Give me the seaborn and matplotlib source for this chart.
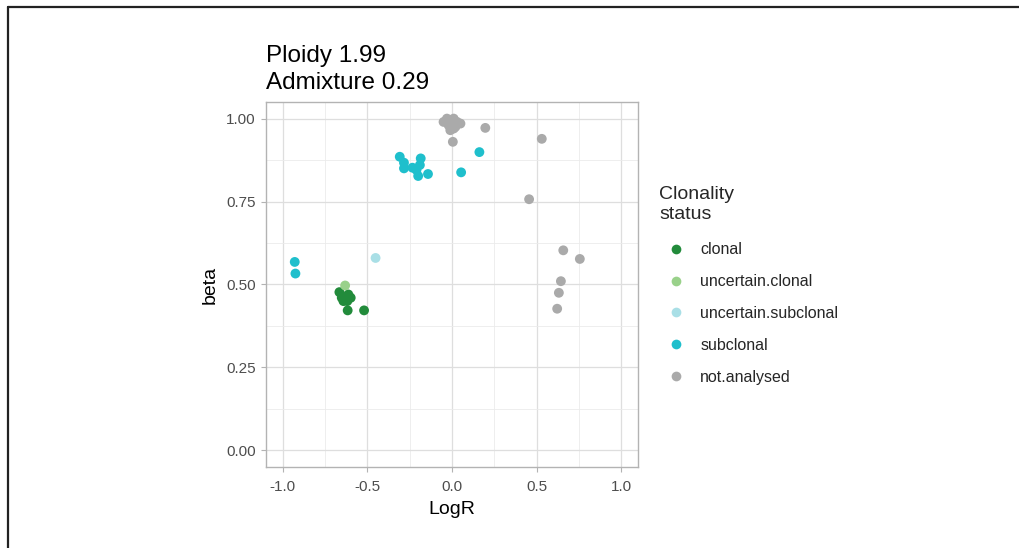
import matplotlib
matplotlib.use("Agg")
import matplotlib.pyplot as plt
from matplotlib.lines import Line2D
import seaborn as sns
import pandas as pd
import numpy as np

# ---- data ----
clonal_x = [-0.666, -0.613, -0.652, -0.599, -0.642, -0.619, -0.630, -0.617, -0.520]
clonal_y = [0.477, 0.470, 0.460, 0.460, 0.450, 0.450, 0.455, 0.422, 0.422]
unc_clonal_x = [-0.632]
unc_clonal_y = [0.497]
unc_subclonal_x = [-0.452]
unc_subclonal_y = [0.580]
subclonal_x = [-0.930, -0.926, -0.309, -0.284, -0.284, -0.185, -0.210, -0.200,
               -0.142, -0.234, -0.190, 0.162, 0.054]
subclonal_y = [0.568, 0.533, 0.885, 0.867, 0.850, 0.880, 0.845, 0.827,
               0.833, 0.852, 0.860, 0.899, 0.838]
na_x = [-0.05, -0.03, -0.01, 0.01, 0.03, 0.02, -0.02, 0.05, -0.01, 0.01, 0.0,
        0.197, 0.005, 0.531, 0.456, 0.658, 0.756, 0.644, 0.632, 0.622]
na_y = [0.99, 1.0, 0.995, 1.0, 0.99, 0.975, 0.98, 0.985, 0.965, 0.97, 0.985,
        0.972, 0.930, 0.939, 0.757, 0.603, 0.577, 0.510, 0.475, 0.427]

categories = ["clonal", "uncertain.clonal", "uncertain.subclonal", "subclonal", "not.analysed"]
palette = ["#228B3B", "#99D18A", "#A9DFE6", "#1FBFCC", "#AAAAAA"]
x_ticks = [-1.0, -0.5, 0.0, 0.5, 1.0]
x_ticklabels = ["-1.0", "-0.5", "0.0", "0.5", "1.0"]
y_ticks = [0.0, 0.25, 0.5, 0.75, 1.0]
y_ticklabels = ["0.00", "0.25", "0.50", "0.75", "1.00"]
title_text = "Ploidy 1.99\nAdmixture 0.29"

xs = [clonal_x, unc_clonal_x, unc_subclonal_x, subclonal_x, na_x]
ys = [clonal_y, unc_clonal_y, unc_subclonal_y, subclonal_y, na_y]
df = pd.concat([pd.DataFrame({"LogR": x, "beta": y, "status": c})
                for x, y, c in zip(xs, ys, categories)], ignore_index=True)
df["status"] = pd.Categorical(df["status"], categories=categories, ordered=True)

sns.set_theme(style="white")
plt.rcParams["font.family"] = ["Liberation Sans", "DejaVu Sans"]

fig = plt.figure(figsize=(10.19, 5.48), dpi=100)
ax = fig.add_axes([266 / 1019, 1 - 467 / 548, (638 - 266) / 1019, (467 - 102) / 548])

sns.scatterplot(data=df, x="LogR", y="beta", hue="status", hue_order=categories,
                palette=palette, s=50, edgecolor="none", linewidth=0, ax=ax, zorder=3)

ax.set_xlim(-1.1, 1.1)
ax.set_ylim(-0.05, 1.05)
ax.set_xticks(x_ticks)
ax.set_xticklabels(x_ticklabels)
ax.set_yticks(y_ticks)
ax.set_yticklabels(y_ticklabels)
ax.set_xticks([-0.75, -0.25, 0.25, 0.75], minor=True)
ax.set_yticks([0.125, 0.375, 0.625, 0.875], minor=True)
ax.grid(True, which="major", color="#DEDEDE", linewidth=0.9, zorder=0)
ax.grid(True, which="minor", color="#EBEBEB", linewidth=0.6, zorder=0)
ax.set_axisbelow(True)
for sp in ax.spines.values():
    sp.set_color("#B3B3B3")
    sp.set_linewidth(1.0)
ax.tick_params(axis="both", which="major", length=3.5, width=0.8, color="#B3B3B3",
               labelsize=11, labelcolor="#4D4D4D", pad=4, bottom=True, left=True)
ax.tick_params(axis="x", which="major", pad=6)
ax.tick_params(axis="both", which="minor", length=0)
ax.set_xlabel("LogR", fontsize=14, color="black", labelpad=5)
ax.set_ylabel("beta", fontsize=14, color="black", labelpad=5)
ax.set_title(title_text, loc="left", fontsize=17.5, color="black", pad=9, linespacing=1.3)

handles = [Line2D([0], [0], marker="o", linestyle="none", markersize=7,
                  markerfacecolor=c, markeredgecolor="none") for c in palette]
leg = ax.legend(handles, categories, title="Clonality\nstatus", loc="upper left",
                bbox_to_anchor=(653 / 1019, 1 - 180 / 548), bbox_transform=fig.transFigure,
                frameon=False, fontsize=11.5, title_fontsize=14, labelspacing=1.05,
                handletextpad=0.46, borderaxespad=0, handlelength=2.1, borderpad=0.4)
leg._legend_box.align = "left"
leg._legend_box.sep = 14

# figure border (top and left)
fig.add_artist(Line2D([8 / 1019, 1.0], [1 - 7 / 548, 1 - 7 / 548], transform=fig.transFigure,
                      color="#222222", linewidth=1.6))
fig.add_artist(Line2D([8 / 1019, 8 / 1019], [0.0, 1 - 7 / 548], transform=fig.transFigure,
                      color="#222222", linewidth=1.6))

fig.savefig("out.png", dpi=100)
